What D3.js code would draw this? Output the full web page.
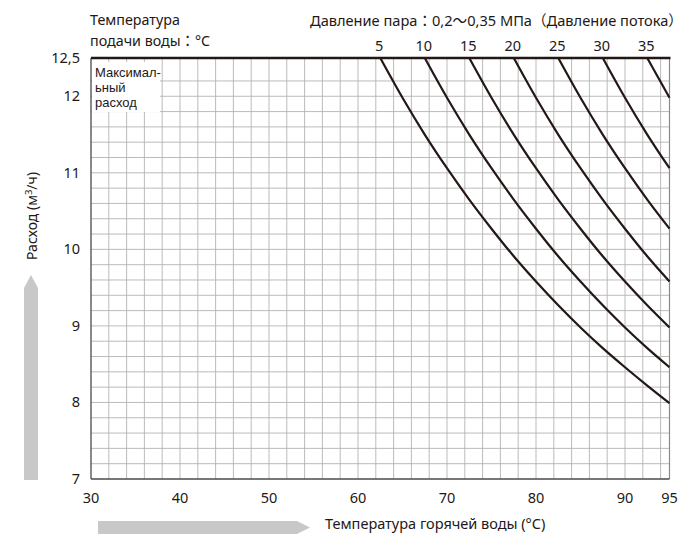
<!DOCTYPE html>
<html><head><meta charset="utf-8">
<script src="https://cdn.jsdelivr.net/npm/d3@7"></script>
<style>body{margin:0;background:#fff}svg{display:block}text{font-family:"Noto Sans","Noto Sans CJK JP",sans-serif;fill:#231815}</style>
</head><body><svg id="c" width="700" height="549"></svg>
<script>
// Data
const xTicks = [30, 40, 50, 60, 70, 80, 90, 95];
const yTicks = [7, 8, 9, 10, 11, 12, 12.5];
const yTickLabels = ["7", "8", "9", "10", "11", "12", "12,5"];
const supplyTemps = [5, 10, 15, 20, 25, 30, 35];
// hot water temperature points (°C) and flow (m3/h) for each supply temperature curve
const tempsAll = [62.5, 65, 67.5, 70, 72.5, 75, 77.5, 80, 82.5, 85, 87.5, 90, 92.5, 95];
const curve5  = [12.5, 11.98, 11.50, 11.06, 10.65, 10.27, 9.91, 9.58, 9.27, 8.98, 8.71, 8.46, 8.22, 7.99];
const curve10 = [12.5, 11.98, 11.50, 11.06, 10.65, 10.27, 9.91, 9.58, 9.27, 8.98, 8.71, 8.46];
const curve15 = [12.5, 11.98, 11.50, 11.06, 10.65, 10.27, 9.91, 9.58, 9.27, 8.98];
const curve20 = [12.5, 11.98, 11.50, 11.06, 10.65, 10.27, 9.91, 9.58];
const curve25 = [12.5, 11.98, 11.50, 11.06, 10.65, 10.27];
const curve30 = [12.5, 11.98, 11.50, 11.06];
const curve35 = [12.5, 11.98];
const curveStarts = [62.5, 67.5, 72.5, 77.5, 82.5, 87.5, 92.5];

const svg = d3.select("#c");
const x = d3.scaleLinear().domain([30, 95]).range([91, 669.5]);
const y = d3.scaleLinear().domain([7, 12.5]).range([479, 58]);

// grid
const g = svg.append("g");
g.selectAll("line.v").data(d3.range(32, 95, 2)).join("line")
  .attr("x1", d => x(d)).attr("x2", d => x(d)).attr("y1", y(12.5)).attr("y2", y(7))
  .attr("stroke", "#b3b3b3").attr("stroke-width", 0.9);
g.selectAll("line.h").data(d3.range(36, 62).map(i => i / 5)).join("line")
  .attr("x1", x(30)).attr("x2", x(95)).attr("y1", d => y(d)).attr("y2", d => y(d))
  .attr("stroke", "#b3b3b3").attr("stroke-width", 0.9);

// label box
svg.append("rect").attr("x", x(30) + 1).attr("y", 62).attr("width", 68).attr("height", 50).attr("fill", "#fff");
["Максимал-", "ьный", "расход"].forEach((t, i) =>
  svg.append("text").attr("x", 95).attr("y", 77 + i * 15).attr("font-size", 13)
    .style("font-family", "'Liberation Sans', sans-serif").text(t));

// borders
svg.append("line").attr("x1", x(95)).attr("x2", x(95)).attr("y1", y(12.5)).attr("y2", y(7)).attr("stroke", "#8a8a8a").attr("stroke-width", 1.2);
svg.append("line").attr("x1", x(30)).attr("x2", x(30)).attr("y1", y(12.5)).attr("y2", y(7)).attr("stroke", "#4a4a4a").attr("stroke-width", 1.3);
svg.append("line").attr("x1", x(30)).attr("x2", x(95)).attr("y1", y(7)).attr("y2", y(7)).attr("stroke", "#4a4a4a").attr("stroke-width", 1.3);
svg.append("line").attr("x1", x(30)).attr("x2", x(95) + 1).attr("y1", y(12.5)).attr("y2", y(12.5)).attr("stroke", "#231815").attr("stroke-width", 2.6);

// curves
const curves = [curve5, curve10, curve15, curve20, curve25, curve30, curve35];
const line = d3.line().x(d => x(d[0])).y(d => y(d[1])).curve(d3.curveMonotoneX);
curves.forEach((vals, i) => {
  const start = tempsAll.indexOf(curveStarts[i]);
  const pts = vals.map((v, j) => [tempsAll[start + j], v]);
  svg.append("path").attr("d", line(pts)).attr("fill", "none").attr("stroke", "#231815").attr("stroke-width", 2.2);
  svg.append("text").attr("x", x(curveStarts[i]) - 1).attr("y", 51).attr("text-anchor", "middle").attr("font-size", 14.5).text(supplyTemps[i]);
});

// axes labels
svg.selectAll("text.xt").data(xTicks).join("text").attr("x", d => x(d)).attr("y", 503)
  .attr("text-anchor", "middle").attr("font-size", 14.5).text(d => d);
svg.selectAll("text.yt").data(yTicks).join("text").attr("x", 80).attr("y", d => y(d) + 5)
  .attr("text-anchor", "end").attr("font-size", 14.5).text((d, i) => yTickLabels[i]);

// headers
const h = svg.append("text").attr("font-size", 14.3);
h.append("tspan").attr("x", 90).attr("y", 25).text("Температура");
h.append("tspan").attr("x", 90).attr("y", 46).text("подачи воды：°C");
svg.append("text").attr("x", 310).attr("y", 26).attr("font-size", 14.6)
  .text("Давление пара：0,2〜0,35 МПа（Давление потока）");

// y title
const yt = svg.append("text").attr("transform", "translate(37,216) rotate(-90)").attr("text-anchor", "middle").attr("font-size", 14);
yt.append("tspan").text("Расход (м");
yt.append("tspan").attr("font-size", 9.5).attr("dy", -5).text("3");
yt.append("tspan").attr("dy", 5).text("/ч)");

// x title
svg.append("text").attr("x", 325).attr("y", 529).attr("font-size", 14.5).text("Температура горячей воды (°C)");

// arrows
svg.append("path").attr("d", "M24,480 L24,288 L31,275 L38,288 L38,480 Z").attr("fill", "#c8c8c8");
svg.append("path").attr("d", "M98,521 L297,521 L310,527.5 L297,534 L98,534 Z").attr("fill", "#c8c8c8");
</script></body></html>
